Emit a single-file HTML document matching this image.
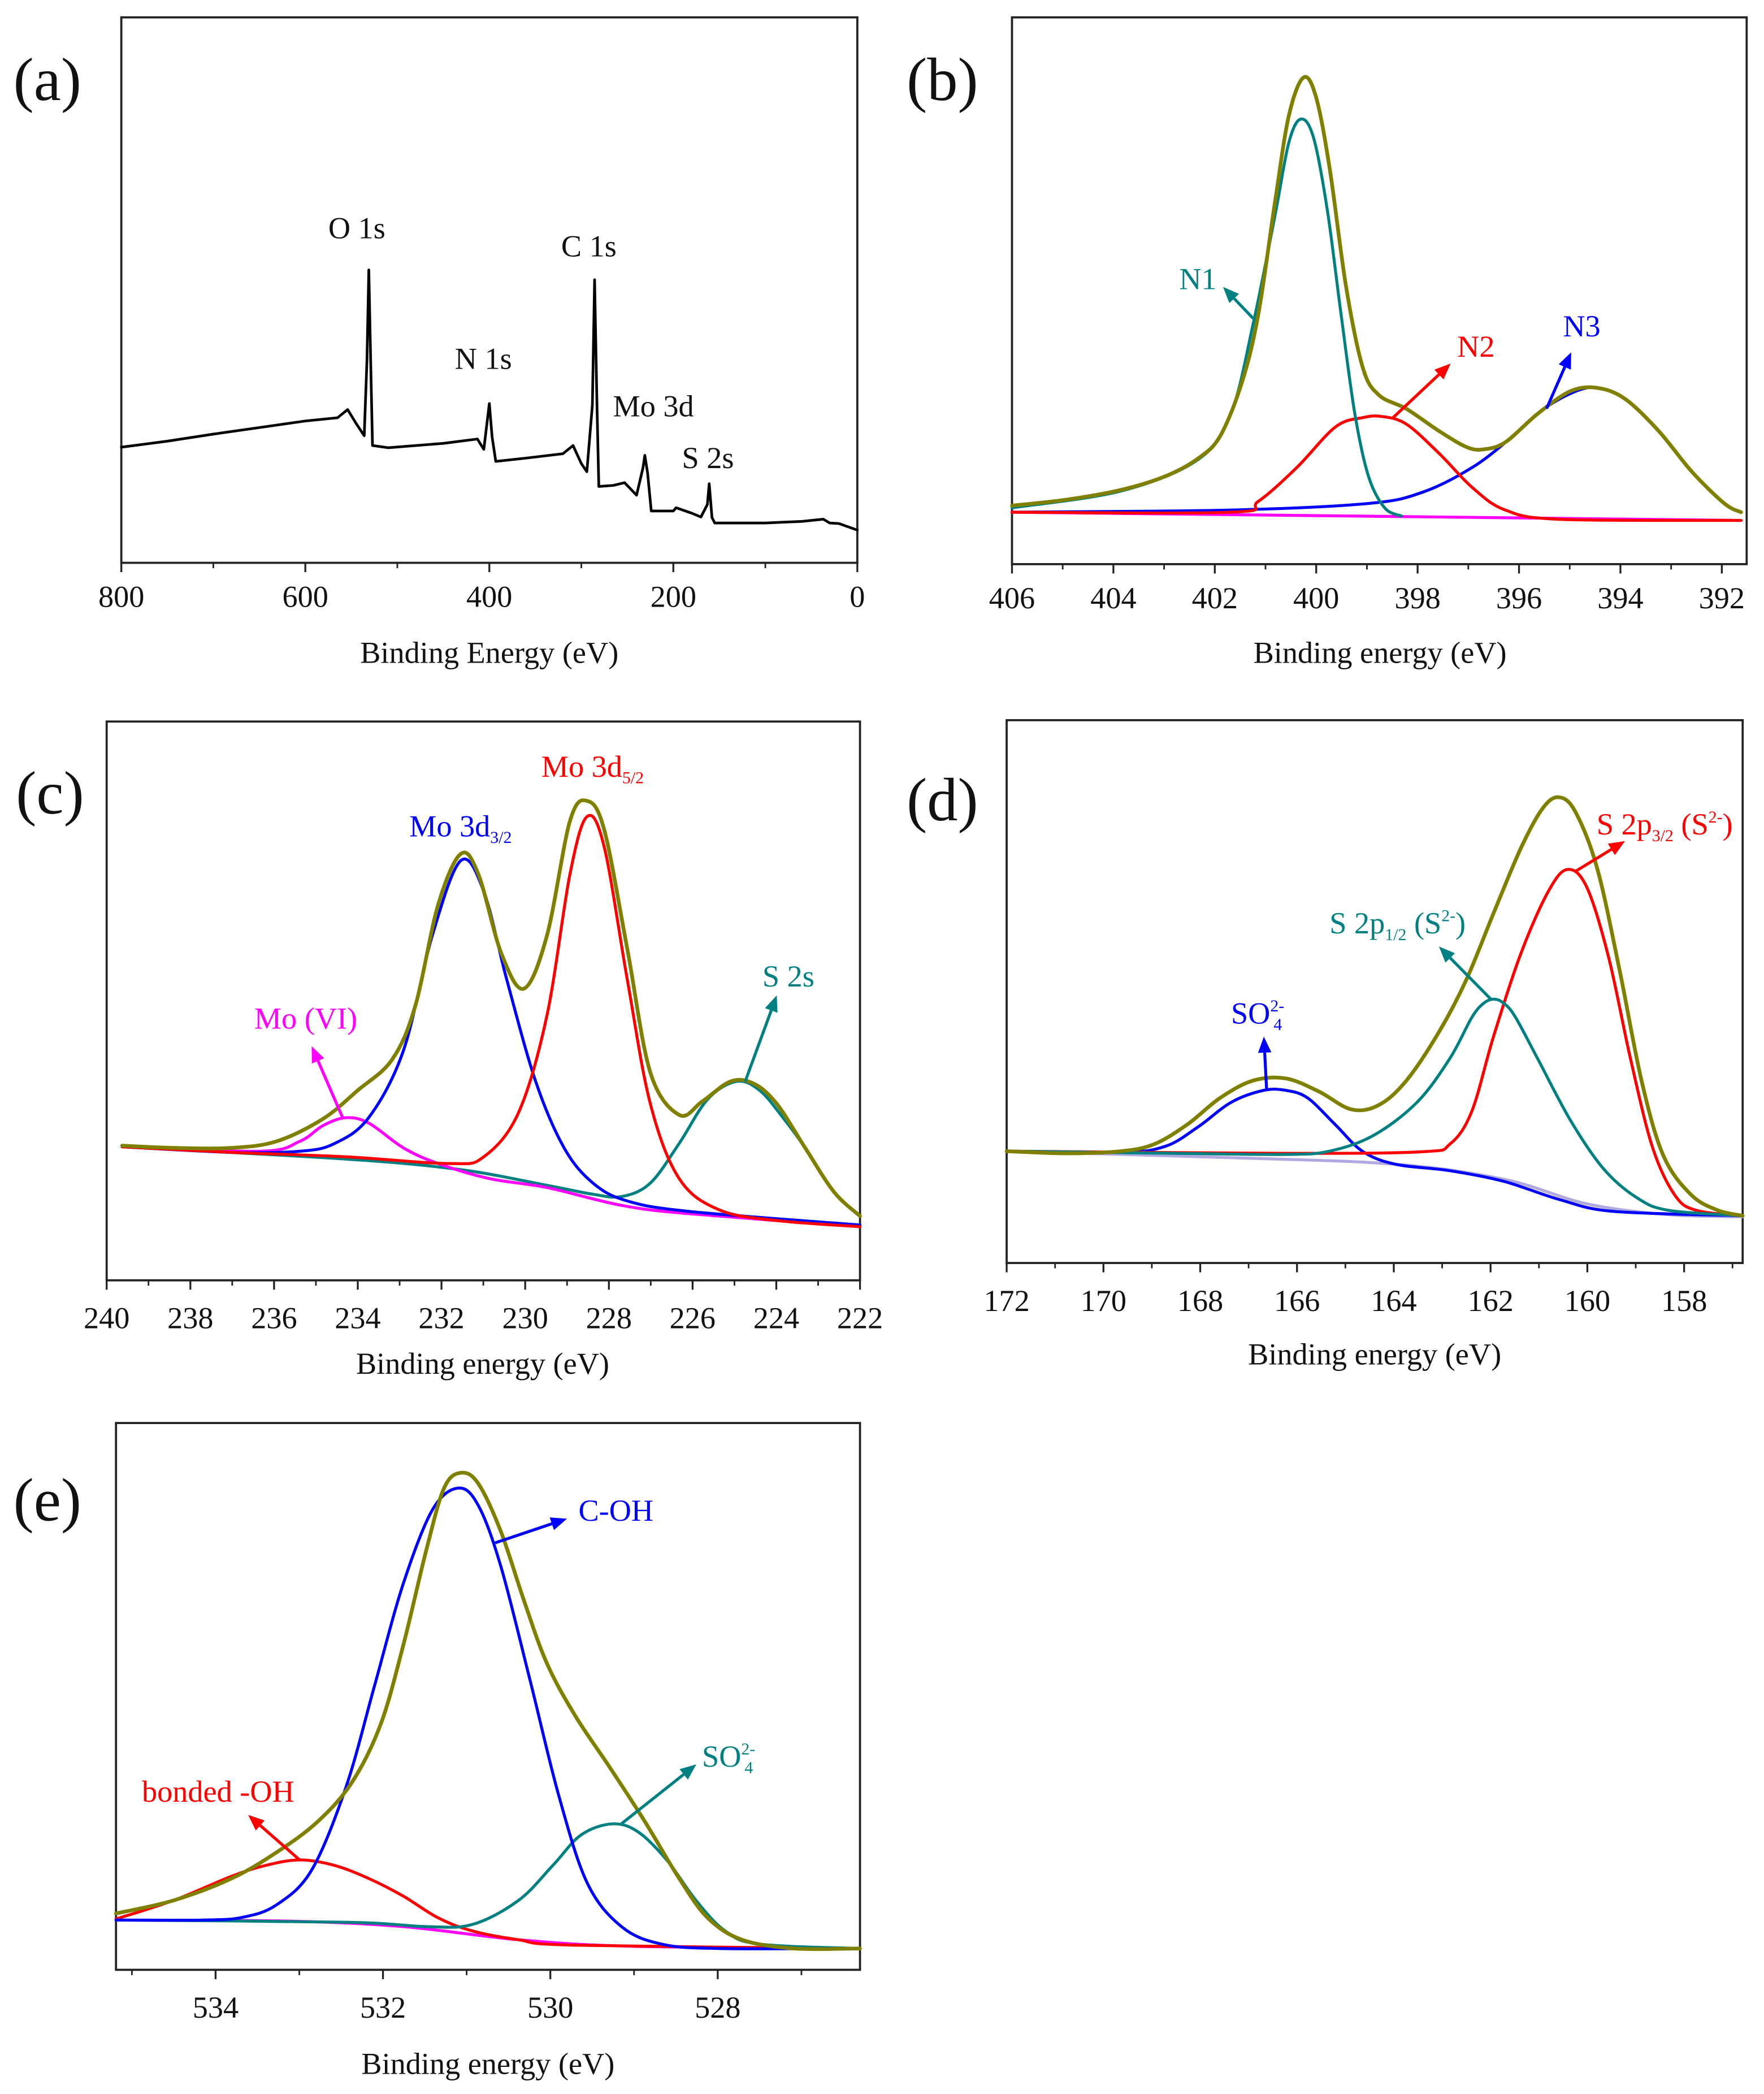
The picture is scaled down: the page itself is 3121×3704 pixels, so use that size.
<!DOCTYPE html>
<html><head><meta charset="utf-8"><style>
html,body{margin:0;padding:0;background:#fff}
svg{display:block}
svg text, svg tspan{font-family:"Liberation Serif","Times New Roman",serif}
</style></head><body>
<svg id="fig" width="3121" height="3704" viewBox="0 0 1323 1570.1" xmlns="http://www.w3.org/2000/svg" font-family="Liberation Serif, serif">
<rect x="0" y="0" width="1323" height="1571" fill="#fff"/>
</svg>
<script>
// ---------- DATA ----------
const aEnergy=[800,750,700,650,600,565,554,545,536,533,531,529,527,510,450,413,406,400,397,393,360,320,309,300,294,288,285.6,283,281,265,253,240,233,231,228,224,200,197,180,170,163,161,158,155,100,60,37,30,20,0];
const aInt=[21.2,22.3,23.6,24.8,26.0,26.6,28.1,25.6,23.3,37.2,53.7,37.2,21.5,21.1,21.9,22.7,20.8,29.2,23.1,18.6,19.2,20.0,21.5,18.2,16.7,28.9,51.9,28.9,14.0,14.2,14.7,12.4,17.4,19.7,16.5,9.5,9.5,10.1,9.1,8.4,10.7,14.5,8.3,7.3,7.3,7.6,8.0,7.3,7.2,6.0];
const aTicks=[800,600,400,200,0];
const aMinor=[700,500,300,100];
const aPeakLabels=["O 1s","N 1s","C 1s","Mo 3d","S 2s"];

const bEnvE=[406,404.92,403.84,402.97,402.32,401.89,401.46,401.14,400.81,400.54,400.25,400.0,399.73,399.41,399.08,398.76,398.22,397.57,397.03,396.70,396.27,395.62,394.97,394.43,393.89,393.24,392.59,391.95,391.62];
const bEnvI=[10.7,11.8,13.6,16.1,19.4,23.5,33.4,45.8,66.4,82.0,89.0,85.3,72.1,50.7,35.9,30.9,28.4,24.3,21.4,21.0,22.3,27.6,31.7,32.2,30.1,24.3,16.9,11.1,9.5];
const bN1E=[406,403.84,402.32,401.68,401.24,400.81,400.54,400.30,400.05,399.78,399.51,399.24,398.97,398.65,398.32];
const bN1I=[10.3,13.4,19.2,27.6,44.1,63.9,77.1,81.4,77.9,64.7,45.7,27.6,16.1,10.3,8.8];
const bN2E=[406,401.68,401.14,400.38,399.62,399.08,398.70,398.22,397.57,396.92,396.27,395.19,391.62];
const bN2I=[9.5,9.5,11.5,17.7,25.1,26.8,27.0,25.6,20.2,14.0,9.9,8.2,8.0];
const bN3E=[406,401.68,398.97,397.89,396.92,396.16,395.51,394.86,394.43,393.89,393.24,392.59,391.95,391.62];
const bN3I=[9.5,9.9,11.1,13.2,17.7,23.1,28.4,31.7,32.2,30.1,24.3,16.9,11.1,9.5];
const bBaseE=[406,398.32,391.62];
const bBaseI=[9.5,8.7,8.0];
const bTicks=[406,404,402,400,398,396,394,392];

const cEnvE=[239.63,238.39,237.02,235.93,234.83,234.0,233.18,232.63,232.08,231.54,231.12,230.57,230.03,229.48,228.93,228.52,228.11,227.56,227.01,226.32,225.77,225.09,224.54,223.99,223.31,222.62,222.0];
const cEnvI=[24.1,23.7,23.7,24.9,28.9,34.0,39.5,49.0,67.2,76.3,72.7,58.5,52.2,61.7,82.2,85.8,80.6,59.3,37.2,29.6,32.0,35.6,35.2,31.6,23.7,15.8,11.5];
const cBlueE=[239.63,237.02,235.38,234.55,233.73,232.91,232.22,231.54,230.99,230.44,229.75,229.07,228.38,227.56,226.05,222.0];
const cBlueI=[23.9,22.9,23.1,24.5,29.2,41.1,61.7,75.1,69.6,53.8,35.6,23.7,17.4,14.2,12.3,9.9];
const cRedE=[239.63,237.02,234.28,231.81,230.99,230.16,229.48,228.93,228.52,228.11,227.56,227.01,226.32,225.36,223.99,222.0];
const cRedI=[23.9,22.9,22.1,20.9,22.1,30.0,47.4,72.7,83.0,77.5,53.8,31.6,18.2,12.6,10.7,9.6];
const cTealE=[239.63,234.28,231.54,229.48,228.38,227.69,227.01,226.32,225.64,224.95,224.4,223.85,223.31,222.62,222.0];
const cTealI=[23.9,21.7,19.8,17.0,15.4,15.0,17.4,24.5,32.4,35.6,34.0,29.2,23.7,15.8,11.5];
const cMagE=[239.63,236.34,235.38,234.83,234.28,233.73,232.91,232.08,230.85,229.48,227.69,226.05,222.0];
const cMagI=[24.1,23.1,24.9,27.7,29.1,28.1,23.7,20.9,18.2,16.6,13.4,11.9,9.6];
const cTicks=[240,238,236,234,232,230,228,226,224,222];

const dEnvE=[172,170.76,169.63,168.95,168.27,167.59,166.91,166.23,165.55,164.88,164.31,163.74,163.07,162.50,161.94,161.37,160.92,160.58,160.24,159.79,159.33,158.88,158.43,157.86,157.30,156.79];
const dEnvI=[20.6,20.2,20.6,21.9,25.5,30.4,33.6,34.0,31.6,28.3,29.1,33.6,42.5,52.2,64.4,76.5,83.8,85.8,83.0,72.5,53.8,33.6,19.8,12.6,9.7,8.7];
const dBlueE=[172,169.63,168.72,168.04,167.36,166.69,166.23,165.78,165.21,164.65,163.97,162.84,161.71,160.58,159.45,156.79];
const dBlueI=[20.6,20.4,21.5,25.1,29.6,31.8,31.8,30.4,25.5,20.6,18.2,17.0,15.0,11.7,9.5,8.7];
const dTealE=[172,168.50,166.23,165.33,164.42,163.52,162.84,162.39,162.15,161.95,161.75,161.50,161.03,160.35,159.67,158.99,158.32,156.79];
const dTealI=[20.6,20.2,20.0,20.6,23.5,29.6,37.7,45.2,47.8,48.6,48.0,45.5,37.7,26.3,17.4,12.1,9.7,8.7];
const dRedE=[172,166.23,163.41,162.84,162.39,161.94,161.37,160.81,160.41,160.01,159.56,159.11,158.66,158.20,157.75,156.79];
const dRedI=[20.6,20.2,20.5,21.9,27.9,41.7,57.1,68.4,72.5,69.2,56.3,37.7,21.5,12.6,9.7,8.7];
const dBaseE=[172,167.36,163.97,161.71,160.01,158.32,156.79];
const dBaseI=[20.6,19.4,18.2,15.4,10.9,8.9,8.5];
const dTicks=[172,170,168,166,164,162,160,158];

const eEnvE=[535.19,534.50,533.81,533.27,532.78,532.37,532.03,531.76,531.48,531.27,531.07,530.86,530.59,530.31,530.04,529.70,529.28,528.87,528.46,528.12,527.71,527.09,526.30];
const eEnvI=[10.3,12.7,16.7,21.5,27.1,34.3,44.8,59.2,76.9,88.1,90.9,88.9,80.1,67.3,56.0,46.4,36.8,27.1,16.7,9.5,5.5,3.9,3.9];
const eBlueE=[535.19,534.16,533.68,533.27,532.85,532.44,532.10,531.76,531.41,531.10,530.86,530.59,530.24,529.90,529.56,529.15,528.67,527.98,526.30];
const eBlueI=[9.1,9.1,9.6,11.9,18.3,33.5,52.0,70.5,84.1,88.1,84.9,73.7,52.8,31.9,15.9,7.9,4.7,3.9,3.9];
const eRedE=[535.19,534.50,533.81,533.40,532.99,532.58,532.17,531.76,531.34,530.93,530.38,529.70,526.30];
const eRedI=[9.3,12.7,17.1,19.1,20.1,19.1,16.7,13.5,9.5,7.1,5.5,4.5,3.9];
const eTealE=[535.19,532.44,531.48,530.93,530.38,529.97,529.63,529.25,528.94,528.60,528.26,527.91,527.50,526.30];
const eTealI=[9.1,8.7,7.9,8.3,12.7,19.1,24.7,26.7,25.1,19.9,12.7,7.1,4.7,3.9];
const eBaseE=[535.19,533.13,531.76,530.38,529.0,526.30];
const eBaseI=[9.1,8.9,7.9,5.5,4.3,3.9];
const eTicks=[534,532,530,528];

// ---------- DRAWING ----------
const NS="http://www.w3.org/2000/svg";
const FONT='"Liberation Serif", serif';
const svg=document.getElementById('fig');
function mk(tag,attrs,parent){const el=document.createElementNS(NS,tag);for(const k in attrs)el.setAttribute(k,attrs[k]);if(tag==='text')el.setAttribute('font-family',FONT);(parent||svg).appendChild(el);return el;}
function smooth(pts){
  let d="M"+pts[0][0].toFixed(2)+","+pts[0][1].toFixed(2);
  for(let i=0;i<pts.length-1;i++){
    const p0=pts[Math.max(0,i-1)],p1=pts[i],p2=pts[i+1],p3=pts[Math.min(pts.length-1,i+2)];
    const t=6;
    const c1=[p1[0]+(p2[0]-p0[0])/t,p1[1]+(p2[1]-p0[1])/t];
    const c2=[p2[0]-(p3[0]-p1[0])/t,p2[1]-(p3[1]-p1[1])/t];
    d+=" C"+c1[0].toFixed(2)+","+c1[1].toFixed(2)+" "+c2[0].toFixed(2)+","+c2[1].toFixed(2)+" "+p2[0].toFixed(2)+","+p2[1].toFixed(2);
  }
  return d;
}
function makePanel(name,fx0,fy0,fx1,fy1,eL,eR,zf){
  const g=mk('g',{});
  
  
  const P={g,fx0,fy0,fx1,fy1,
    x:e=>fx0+(e-eL)/(eR-eL)*(fx1-fx0),
    y:i=>fy1-i/100*(fy1-fy0),
    zx:z=>fx0+(z-zf[0])/(zf[1]-zf[0])*(fx1-fx0),
    zy:z=>fy0+(z-zf[2])/(zf[3]-zf[2])*(fy1-fy0)};
  const fr=mk('rect',{x:fx0,y:fy0,width:fx1-fx0,height:fy1-fy0,fill:'none',stroke:'#222','stroke-width':1.6},g);
  
  
  return P;
}
function curve(P,E,I,color,w,name,sm){
  const pts=E.map((e,k)=>[P.x(e),P.y(I[k])]);
  const p=mk('path',{d:sm?smooth(pts):"M"+pts.map(q=>q[0].toFixed(2)+","+q[1].toFixed(2)).join(" L"),fill:'none',stroke:color,'stroke-width':w,'stroke-linejoin':'round','stroke-linecap':'round'},P.g);
  
  
}
function axis(P,ticks,minors,labY,title,titleY,cx){
  const g=P.g;
  ticks.forEach(t=>{
    const X=P.x(t);
    const l=mk('line',{x1:X,x2:X,y1:P.fy1,y2:P.fy1+7,stroke:'#222','stroke-width':1.4},g);
    
    
    const tx=mk('text',{x:X,y:labY,'font-size':23,'text-anchor':'middle',fill:'#111'},g);
    tx.textContent=String(t);
    
    
  });
  minors.forEach(t=>{
    const X=P.x(t);
    const l=mk('line',{x1:X,x2:X,y1:P.fy1,y2:P.fy1+4,stroke:'#222','stroke-width':1.2},g);
    
    
  });
  const tt=mk('text',{x:cx,y:titleY,'font-size':23,'text-anchor':'middle',fill:'#111'},g);
  tt.textContent=title;
  
  
}
function label(txt,x,y,size,name,color,anchor){
  const t=mk('text',{x:x,y:y,'font-size':size,fill:color||'#111','text-anchor':anchor||'start'});
  t.textContent=txt;
  
  
  return t;
}
function arrow(P,z1x,z1y,z2x,z2y,color,name){
  const x1=P.zx(z1x),y1=P.zy(z1y),x2=P.zx(z2x),y2=P.zy(z2y);
  const g=mk('g',{},P.g);
  
  
  const a=Math.atan2(y2-y1,x2-x1),L=12,W=5;
  const bx=x2-L*Math.cos(a),by=y2-L*Math.sin(a);
  mk('line',{x1,y1,x2:bx,y2:by,stroke:color,'stroke-width':2.2},g);
  mk('polygon',{points:`${x2},${y2} ${bx+W*Math.sin(a)},${by-W*Math.cos(a)} ${bx-W*Math.sin(a)},${by+W*Math.cos(a)}`,fill:color},g);
}
function richLabel(P,zx,zy,parts,color,name,size){
  const t=mk('text',{x:P.zx(zx),y:P.zy(zy),'font-size':size||23,fill:color},P.g);
  
  
  parts.forEach(p=>{
    const s=mk('tspan',{},t);
    if(p[1]==='sub'){s.setAttribute('font-size',(size||23)*0.55);s.setAttribute('dy',5);}
    if(p[1]==='sup'){s.setAttribute('font-size',(size||23)*0.55);s.setAttribute('dy',-9);}
    if(p[1]==='back'){s.setAttribute('font-size',(size||23)*0.55);s.setAttribute('dy',14);s.setAttribute('dx',-8);}
    if(p[1]==='up'){s.setAttribute('dy',-5);}
    if(p[1]==='down'){s.setAttribute('dy',9);}
    s.textContent=p[0];
  });
}
const OL='#808000',TE='#008080',RD='#ff0000',BL='#0000ff',MG='#ff00ff';

const A=makePanel('panel-a-survey',91,13,643,422,800,0,[210,1490,40,1250]);
curve(A,aEnergy,aInt,'#000',2,'survey-spectrum',false);
axis(A,aTicks,aMinor,455,'Binding Energy (eV)',497,367);
[[570,530],[790,820],[975,570],[1065,925],[1185,1040]].forEach((p,k)=>{
  const t=mk('text',{x:A.zx(p[0]),y:A.zy(p[1]),'font-size':23,fill:'#111'},A.g);
  t.textContent=aPeakLabels[k];
  
  
});
label('(a)',10,75,46,'panel-label-a');

const B=makePanel('panel-b-n1s',759,13,1310,423,406,391.51,[200,1540,42,1255]);
curve(B,bBaseE,bBaseI,MG,2.2,'baseline',true);
curve(B,bN3E,bN3I,BL,2.2,'n3-component',true);
curve(B,bN2E,bN2I,RD,2.2,'n2-component',true);
curve(B,bN1E,bN1I,TE,2.2,'n1-component',true);
curve(B,bEnvE,bEnvI,OL,2.8,'envelope-fit',true);
axis(B,bTicks,[405,403,401,399,397,395,393],456,'Binding energy (eV)',497,1035);
arrow(B,640,710,585,640,TE,'n1-arrow');
arrow(B,895,930,1000,810,RD,'n2-arrow');
arrow(B,1175,910,1220,785,BL,'n3-arrow');
richLabel(B,505,645,[['N1']],TE,'n1-label');
richLabel(B,1012,795,[['N2']],RD,'n2-label');
richLabel(B,1205,750,[['N3']],BL,'n3-label');
label('(b)',680,75,46,'panel-label-b');

const C=makePanel('panel-c-mo3d',80,541,645,960,240,222,[183,1495,35,1300]);
curve(C,cTealE,cTealI,TE,2.2,'s2s-component',true);
curve(C,cMagE,cMagI,MG,2.2,'mo6-component',true);
curve(C,cBlueE,cBlueI,BL,2.2,'mo3d32-component',true);
curve(C,cRedE,cRedI,RD,2.2,'mo3d52-component',true);
curve(C,cEnvE,cEnvI,OL,2.8,'envelope-fit',true);
axis(C,cTicks,[239,237,235,233,231,229,227,225,223],996,'Binding energy (eV)',1030,362);
arrow(C,595,935,540,770,MG,'mo6-arrow');
arrow(C,1295,850,1350,655,TE,'s2s-arrow');
richLabel(C,440,730,[['Mo (VI)']],MG,'mo6-label');
richLabel(C,710,295,[['Mo 3d'],['3/2','sub']],BL,'mo3d32-label');
richLabel(C,940,160,[['Mo 3d'],['5/2','sub']],RD,'mo3d52-label');
richLabel(C,1325,635,[['S 2s']],TE,'s2s-label');
label('(c)',12,610,46,'panel-label-c');

const D=makePanel('panel-d-s2p',755,540,1307,947,172,156.79,[190,1535,30,1265]);
curve(D,dBaseE,dBaseI,'#b0a8e0',2.2,'baseline',true);
curve(D,dBlueE,dBlueI,BL,2.2,'so4-component',true);
curve(D,dRedE,dRedI,RD,2.2,'s2p32-component',true);
curve(D,dTealE,dTealI,TE,2.2,'s2p12-component',true);
curve(D,dEnvE,dEnvI,OL,2.8,'envelope-fit',true);
axis(D,dTicks,[171,169,167,165,163,161,159,157],983,'Binding energy (eV)',1023,1031);
arrow(D,665,870,660,750,BL,'so4-arrow');
arrow(D,1075,665,980,545,TE,'s2p12-arrow');
arrow(D,1228,375,1320,305,RD,'s2p32-arrow');
richLabel(D,600,720,[['SO'],['2-','sup'],['4','back']],BL,'so4-label');
richLabel(D,780,515,[['S 2p'],['1/2','sub'],[' (S','up'],['2-','sup'],[')','down']],TE,'s2p12-label');
richLabel(D,1268,290,[['S 2p'],['3/2','sub'],[' (S','up'],['2-','sup'],[')','down']],RD,'s2p32-label');
label('(d)',680,615,46,'panel-label-d');

const Ep=makePanel('panel-e-o1s',87,1067,645,1477,535.19,526.30,[200,1495,52,1298]);
curve(Ep,eBaseE,eBaseI,MG,2.2,'baseline',true);
curve(Ep,eRedE,eRedI,RD,2.2,'bonded-oh-component',true);
curve(Ep,eTealE,eTealI,TE,2.2,'so4-component',true);
curve(Ep,eBlueE,eBlueI,BL,2.2,'c-oh-component',true);
curve(Ep,eEnvE,eEnvI,OL,2.8,'envelope-fit',true);
axis(Ep,eTicks,[535,533,531,529,527],1513,'Binding energy (eV)',1555,366);
arrow(Ep,860,325,985,270,BL,'c-oh-arrow');
arrow(Ep,1080,965,1210,830,TE,'so4-arrow');
arrow(Ep,520,1048,430,945,RD,'bonded-oh-arrow');
richLabel(Ep,1005,275,[['C-OH']],BL,'c-oh-label');
richLabel(Ep,1220,835,[['SO'],['2-','sup'],['4','back']],TE,'so4-label');
richLabel(Ep,245,915,[['bonded -OH']],RD,'bonded-oh-label');
label('(e)',10,1140,46,'panel-label-e');
</script>
</body></html>
